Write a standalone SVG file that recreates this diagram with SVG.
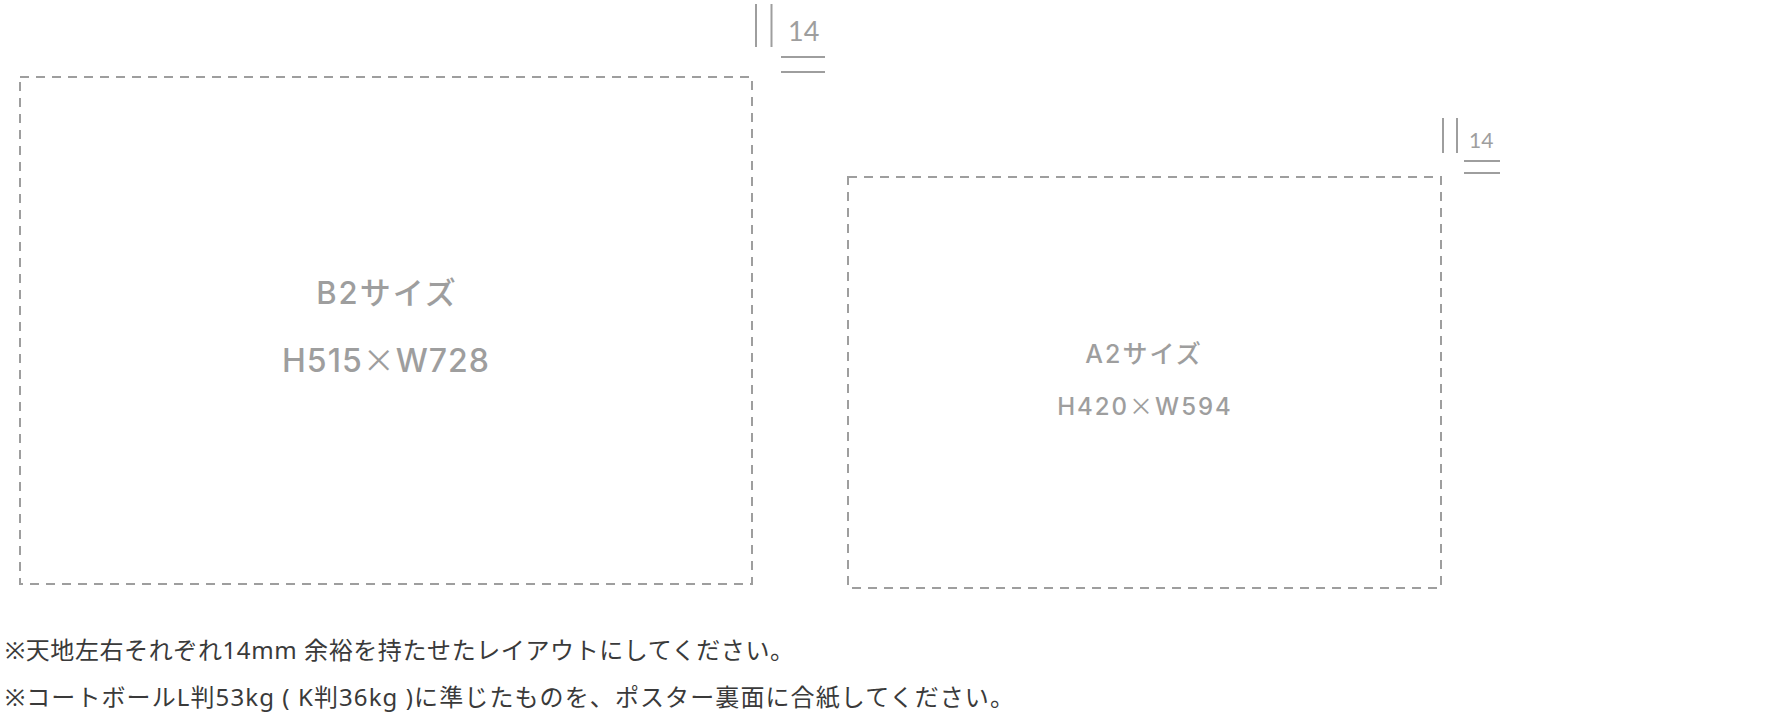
<svg xmlns="http://www.w3.org/2000/svg" width="1782" height="720" viewBox="0 0 1782 720">
<style>
.frame{fill:none;stroke:#9e9e9e;stroke-width:2;stroke-dasharray:9 7}
.mark{stroke:#9e9e9e;stroke-width:2;fill:none}
.lbl{font-family:"Inter","Noto Sans CJK JP",sans-serif;fill:#9e9e9e;font-weight:500;text-anchor:middle}
.x{font-family:"Noto Sans CJK JP",sans-serif;font-weight:400}
.num{font-family:"Lato","Noto Sans CJK JP",sans-serif;fill:#9e9e9e;font-weight:400}
.note{font-family:"Noto Sans","Noto Sans CJK JP",sans-serif;fill:#3a3a3a;font-size:24px}
</style>
<rect width="1782" height="720" fill="#ffffff"/>
<g id="b2">
<rect class="frame" x="20" y="77" width="732" height="507"/>
<text class="lbl" x="387" y="304" font-size="31" letter-spacing="2">B2サイズ</text>
<text class="lbl" x="386" y="372" font-size="32" letter-spacing="1">H515<tspan class="x">×</tspan>W728</text>
</g>
<g id="a2">
<rect class="frame" x="848" y="177" width="593" height="411"/>
<text class="lbl" x="1144" y="363" font-size="25" letter-spacing="2">A2サイズ</text>
<text class="lbl" x="1145" y="415" font-size="24" letter-spacing="2">H420<tspan class="x">×</tspan>W594</text>
</g>
<g id="margin-b2">
<line class="mark" x1="756" y1="4" x2="756" y2="47"/>
<line class="mark" x1="771.5" y1="4" x2="771.5" y2="47"/>
<text class="num" x="788" y="41" font-size="27">14</text>
<line class="mark" x1="781" y1="57" x2="825" y2="57"/>
<line class="mark" x1="781" y1="72" x2="825" y2="72"/>
</g>
<g id="margin-a2">
<line class="mark" x1="1443" y1="118" x2="1443" y2="153"/>
<line class="mark" x1="1457" y1="118" x2="1457" y2="153"/>
<text class="num" x="1469" y="148" font-size="21">14</text>
<line class="mark" x1="1464" y1="161" x2="1500" y2="161"/>
<line class="mark" x1="1464" y1="173" x2="1500" y2="173"/>
</g>
<g id="notes">
<text class="note" x="5" y="659" letter-spacing="0.6">※天地左右それぞれ14mm 余裕を持たせたレイアウトにしてください。</text>
<text class="note" x="5" y="706" letter-spacing="1.1">※コートボールL判53kg ( K判36kg )に準じたものを、ポスター裏面に合紙してください。</text>
</g>
<g id="connectors"></g>
</svg>
